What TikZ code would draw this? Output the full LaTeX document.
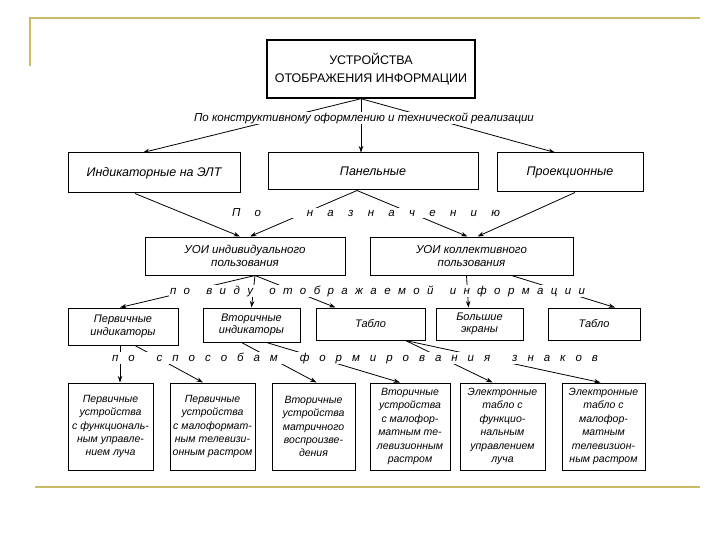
\documentclass[tikz,border=0pt]{standalone}
\usepackage{fontspec}
\setmainfont{Liberation Sans}
\usetikzlibrary{arrows.meta}
\definecolor{gold}{RGB}{204,187,102}
\def\LG{\hfill}
\def\WG{\hspace{0pt plus 2.2fill}}
\def\WGG{\hspace{0pt plus 3.2fill}}
\begin{document}
\begin{tikzpicture}[x=1pt,y=-1pt,
  box/.style={draw, line width=1pt, align=center, inner sep=1pt, anchor=center},
  fa/.style={font=\itshape\fontsize{11.5}{13}\selectfont},
  fb/.style={font=\itshape\fontsize{10.5}{13.4}\selectfont},
  conn/.style={-{Stealth[length=6.5pt,width=4.5pt]}, line width=0.8pt},
  lab/.style={fill=white, inner sep=1pt, font=\itshape\fontsize{11.5}{13}\selectfont},
  gline/.style={draw=gold, line width=2pt}]
\useasboundingbox (0,0) rectangle (720,540);
% frame decoration
\draw[gline] (30,66) -- (30,18) -- (700,18);
\draw[gline, line width=2.6pt] (35,487) -- (700,487);
% level 1
\node[box, line width=1.4pt, minimum width=208pt, minimum height=58pt,
      font=\fontsize{12.5}{18}\selectfont] (title) at (371,69) {УСТРОЙСТВА\\ОТОБРАЖЕНИЯ ИНФОРМАЦИИ};
% level 2
\node[box, fa, font=\itshape\fontsize{12.5}{14}\selectfont, minimum width=172pt, minimum height=40pt] (ind) at (154,173) {Индикаторные на ЭЛТ};
\node[box, fa, font=\itshape\fontsize{12.5}{14}\selectfont, minimum width=210pt, minimum height=37pt] (pan) at (373,171.5) {Панельные};
\node[box, fa, font=\itshape\fontsize{12.5}{14}\selectfont, minimum width=146pt, minimum height=39pt] (proj) at (570,172.5) {Проекционные};
% level 3
\node[box, fa, minimum width=200pt, minimum height=38pt] (uoi1) at (245,256) {УОИ индивидуального\\пользования};
\node[box, fa, minimum width=203pt, minimum height=38pt] (uoi2) at (471.5,256) {УОИ коллективного\\пользования};
% level 4
\node[box, fb, font=\itshape\fontsize{11}{12.5}\selectfont, minimum width=110pt, minimum height=37pt] (p1) at (123,326.5) {Первичные\\индикаторы};
\node[box, fb, font=\itshape\fontsize{11}{12.5}\selectfont, minimum width=97pt, minimum height=34pt] (v1) at (251.5,325) {Вторичные\\индикаторы};
\node[box, fb, font=\itshape\fontsize{11}{12.5}\selectfont, minimum width=109pt, minimum height=32pt] (t1) at (370.5,324) {Табло};
\node[box, fb, font=\itshape\fontsize{11}{12.5}\selectfont, minimum width=87pt, minimum height=32pt] (b1) at (479.5,324) {Большие\\экраны};
\node[box, fb, font=\itshape\fontsize{11}{12.5}\selectfont, minimum width=92pt, minimum height=32pt] (t2) at (594,324) {Табло};
% level 5
\node[box, fb, minimum width=85pt, minimum height=87pt] (c1) at (110.5,426.5) {Первичные\\устройства\\с функциональ-\\ным управле-\\нием луча};
\node[box, fb, minimum width=85pt, minimum height=87pt] (c2) at (212.5,426.5) {Первичные\\устройства\\с малоформат-\\ным телевизи-\\онным растром};
\node[box, fb, minimum width=83pt, minimum height=87pt] (c3) at (313.5,426.5) {Вторичные\\устройства\\матричного\\воспроизве-\\дения};
\node[box, fb, minimum width=80pt, minimum height=87pt] (c4) at (410,426.5) {Вторичные\\устройства\\с малофор-\\матным те-\\левизионным\\растром};
\node[box, fb, minimum width=85pt, minimum height=87pt] (c5) at (502.5,426.5) {Электронные\\табло с\\функцио-\\нальным\\управлением\\луча};
\node[box, fb, minimum width=83pt, minimum height=87pt] (c6) at (603.5,426.5) {Электронные\\табло с\\малофор-\\матным\\телевизион-\\ным растром};
% connectors level 1 -> 2
\draw[conn] ([xshift=-10pt]title.south) -- ([xshift=-11pt]ind.north);
\draw[conn] ([xshift=-10pt]title.south) -- ([xshift=-12pt]pan.north);
\draw[conn] ([xshift=-10pt]title.south) -- ([xshift=-15pt]proj.north);
% level 2 -> 3
\draw[conn] ([xshift=-19pt]ind.south) -- ([xshift=-5pt]uoi1.north);
\draw[conn] ([xshift=-16pt]pan.south) -- ([xshift=5pt]uoi1.north);
\draw[conn] ([xshift=-16pt]pan.south) -- ([xshift=-4pt]uoi2.north);
\draw[conn] ([xshift=5pt]proj.south) -- ([xshift=6pt]uoi2.north);
% level 3 -> 4
\draw[conn] ([xshift=10pt]uoi1.south) -- ([xshift=-3pt]p1.north);
\draw[conn] ([xshift=10pt]uoi1.south) -- (v1.north);
\draw[conn] ([xshift=10pt]uoi1.south) -- ([xshift=-35pt]t1.north);
\draw[conn] ([xshift=-5pt]uoi2.south) -- ([xshift=-11pt]b1.north);
\draw[conn] ([xshift=40pt]uoi2.south) -- ([xshift=21pt]t2.north);
% level 4 -> 5
\draw[conn] ([xshift=-3pt]p1.south) -- ([xshift=9.5pt]c1.north);
\draw[conn] ([xshift=12pt]p1.south) -- ([xshift=-9.5pt]c2.north);
\draw[conn] ([xshift=-10pt]v1.south) -- ([xshift=3pt]c3.north);
\draw[conn] ([xshift=15pt]v1.south) -- ([xshift=-10pt]c4.north);
\draw[conn] ([xshift=35pt]t1.south) -- ([xshift=-10pt]c5.north);
\draw[conn] ([xshift=35pt]t1.south) -- ([xshift=-3pt]c6.north);
% classification labels
\node[lab] (l1) at (364,118) {По конструктивному оформлению и технической реализации};
\node[lab] (l2) at (366,213) {\hbox to 268pt{П\LG о\WGG н\LG а\LG з\LG н\LG а\LG ч\LG е\LG н\LG и\LG ю}};
\node[lab] (l3) at (377.5,291) {\hbox to 415pt{п\LG о\WG в\LG и\LG д\LG у\WG о\LG т\LG о\LG б\LG р\LG а\LG ж\LG а\LG е\LG м\LG о\LG й\WG и\LG н\LG ф\LG о\LG р\LG м\LG а\LG ц\LG и\LG и}};
\node[lab] (l4) at (355,358) {\hbox to 486pt{п\LG о\WG с\LG п\LG о\LG с\LG о\LG б\LG а\LG м\WG ф\LG о\LG р\LG м\LG и\LG р\LG о\LG в\LG а\LG н\LG и\LG я\WG з\LG н\LG а\LG к\LG о\LG в}};
\end{tikzpicture}
\end{document}
